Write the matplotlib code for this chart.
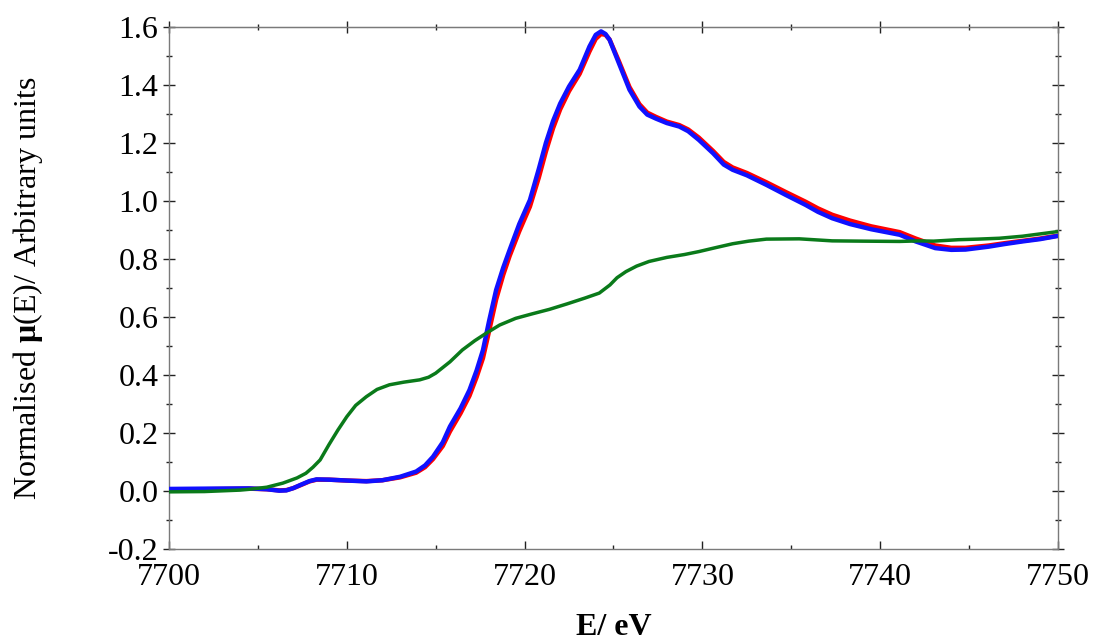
import matplotlib
matplotlib.use("Agg")
import matplotlib.pyplot as plt
from matplotlib.ticker import MultipleLocator, FormatStrFormatter

# Normalised XANES spectra, Co K-edge region
energy = [7700.0, 7702.0, 7704.5, 7705.5, 7706.2, 7706.6, 7707.0, 7707.4, 7707.9, 7708.3,
          7709.0, 7710.0, 7711.1, 7712.0, 7713.0, 7713.9, 7714.4, 7714.85, 7715.4, 7715.8,
          7716.4, 7716.9, 7717.3, 7717.66, 7718.0, 7718.4, 7718.8, 7719.16, 7719.7, 7720.3,
          7720.8, 7721.2, 7721.6, 7722.0, 7722.5, 7723.1, 7723.65, 7724.0, 7724.3, 7724.55,
          7724.78, 7725.3, 7725.9, 7726.46, 7726.9, 7727.4, 7728.0, 7728.7,
          7729.2, 7729.8, 7730.6, 7731.2, 7731.7, 7732.5, 7733.6, 7734.7, 7735.8, 7736.5,
          7737.3, 7738.3, 7739.5, 7741.1, 7742.0, 7743.1, 7744.0, 7744.8, 7746.1, 7747.0,
          7748.0, 7749.0, 7750.0]

mu_blue = [0.007, 0.008, 0.009, 0.006, 0.001, 0.002, 0.010, 0.021, 0.034, 0.040,
           0.039, 0.036, 0.033, 0.037, 0.049, 0.067, 0.088, 0.118, 0.168, 0.222,
           0.285, 0.348, 0.415, 0.486, 0.585, 0.693, 0.770, 0.831, 0.920, 1.003,
           1.110, 1.200, 1.275, 1.335, 1.394, 1.452, 1.532, 1.572, 1.584, 1.575,
           1.555, 1.475, 1.383, 1.325, 1.297, 1.283, 1.268, 1.256,
           1.240, 1.210, 1.164, 1.125, 1.107, 1.088, 1.055, 1.020, 0.986, 0.962,
           0.940, 0.920, 0.902, 0.883, 0.860, 0.837, 0.831, 0.832, 0.842, 0.851,
           0.860, 0.868, 0.879]

mu_red = [0.004, 0.006, 0.008, 0.006, 0.002, 0.003, 0.010, 0.020, 0.033, 0.039,
          0.039, 0.036, 0.034, 0.037, 0.047, 0.063, 0.082, 0.110, 0.155, 0.205,
          0.268, 0.328, 0.392, 0.458, 0.550, 0.660, 0.745, 0.810, 0.895, 0.980,
          1.080, 1.170, 1.250, 1.315, 1.378, 1.438, 1.515, 1.558, 1.575, 1.572,
          1.556, 1.482, 1.392, 1.333, 1.304, 1.289, 1.273, 1.261,
          1.246, 1.218, 1.172, 1.134, 1.115, 1.096, 1.064, 1.030, 0.997, 0.974,
          0.952, 0.932, 0.912, 0.892, 0.870, 0.846, 0.838, 0.838, 0.846, 0.854,
          0.862, 0.870, 0.880]

energy_green = [7700.0, 7702.0, 7704.0, 7704.55, 7705.5, 7706.4, 7707.2, 7707.7, 7708.1, 7708.5,
                7709.0, 7709.5, 7710.0, 7710.5, 7711.1, 7711.7, 7712.4, 7713.2, 7714.1, 7714.6,
                7715.0, 7715.8, 7716.5, 7717.2, 7717.85, 7718.6, 7719.5, 7720.4, 7721.4, 7722.4,
                7723.4, 7724.2, 7724.8, 7725.2, 7725.7, 7726.3, 7727.0, 7728.0, 7729.0, 7729.8,
                7730.7, 7731.7, 7732.6, 7733.6, 7735.45, 7737.3, 7739.0, 7741.1, 7742.2, 7743.0,
                7744.4, 7745.5, 7746.7, 7748.0, 7749.0, 7750.0]

mu_green = [-0.003, -0.002, 0.003, 0.006, 0.013, 0.027, 0.045, 0.061, 0.082, 0.107,
            0.160, 0.210, 0.256, 0.295, 0.325, 0.350, 0.366, 0.375, 0.383, 0.392,
            0.406, 0.445, 0.486, 0.518, 0.544, 0.572, 0.595, 0.610, 0.626, 0.645,
            0.665, 0.682, 0.710, 0.735, 0.756, 0.775, 0.791, 0.805, 0.815, 0.825,
            0.838, 0.852, 0.861, 0.868, 0.869, 0.862, 0.861, 0.860, 0.862, 0.861,
            0.866, 0.868, 0.871, 0.878, 0.886, 0.894]

plt.rcParams['font.family'] = ['Liberation Serif', 'DejaVu Serif']
plt.rcParams['mathtext.fontset'] = 'custom'
plt.rcParams['mathtext.rm'] = 'Liberation Serif'
plt.rcParams['mathtext.bf'] = 'Liberation Serif:bold'
plt.rcParams['mathtext.it'] = 'Liberation Serif:italic'

fig = plt.figure(figsize=(10.96, 6.44), dpi=100)
ax = fig.add_axes([0.1542, 0.1475, 0.8111, 0.8110])

ax.plot(energy, mu_red, color='#ff0000', lw=3.2, solid_joinstyle='round',
        solid_capstyle='round', zorder=2)
ax.plot(energy, mu_blue, color='#1010ff', lw=3.2, solid_joinstyle='round',
        solid_capstyle='round', zorder=3)
ax.plot(energy_green, mu_green, color='#0a7a1a', lw=2.5, solid_joinstyle='round', zorder=4)

ax.set_xlim(7700, 7750)
ax.set_ylim(-0.2, 1.6)
ax.xaxis.set_major_locator(MultipleLocator(10))
ax.xaxis.set_minor_locator(MultipleLocator(5))
ax.yaxis.set_major_locator(MultipleLocator(0.2))
ax.yaxis.set_minor_locator(MultipleLocator(0.1))
ax.yaxis.set_major_formatter(FormatStrFormatter('%.1f'))

for sp in ax.spines.values():
    sp.set_color('#7a7a7a')
    sp.set_linewidth(1.0)

ax.tick_params(axis='x', which='major', direction='in', length=6, width=1,
               labelsize=23, pad=10, color='#222222')
ax.tick_params(axis='x', which='minor', direction='in', length=3, width=1, color='#222222')
ax.tick_params(axis='y', which='major', direction='inout', length=9, width=1,
               labelsize=23, left=True, right=True, pad=3, color='#222222')
ax.tick_params(axis='y', which='minor', direction='inout', length=4, width=1,
               left=True, right=True, color='#222222')

# top edge ticks cross the frame, bottom ones point inward only
top = ax.secondary_xaxis('top')
top.xaxis.set_major_locator(MultipleLocator(10))
top.xaxis.set_minor_locator(MultipleLocator(5))
top.tick_params(which='major', direction='inout', length=9, width=1, labeltop=False, color='#222222')
top.tick_params(which='minor', direction='inout', length=4, width=1, color='#222222')
top.spines['top'].set_color('#7a7a7a')

ax.set_xlabel('E/ eV', fontsize=23, fontweight='bold')
ax.xaxis.set_label_coords(0.5, -0.122)
ax.set_ylabel(r'Normalised $\mathbf{\mu}$(E)/ Arbitrary units', fontsize=23)
ax.yaxis.set_label_coords(-0.14, 0.5)

fig.savefig('out.png', dpi=100)
